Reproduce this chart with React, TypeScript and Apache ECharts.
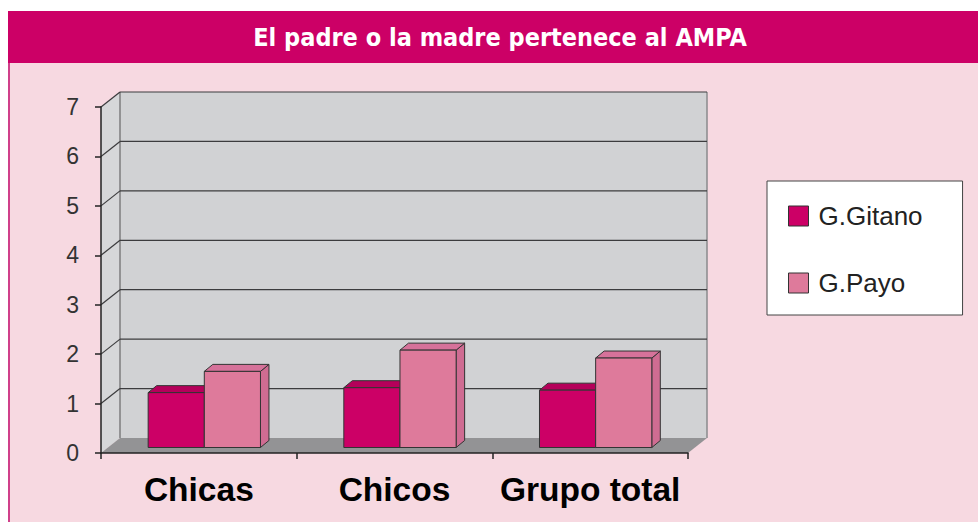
import React, { useEffect, useRef } from "react";
import * as echarts from "echarts";

const title = "El padre o la madre pertenece al AMPA";
const categories = ["Chicas", "Chicos", "Grupo total"];
const seriesNames = ["G.Gitano", "G.Payo"];
const gitano = [1.11, 1.21, 1.16];
const payo = [1.54, 1.97, 1.81];
const yMin = 0;
const yMax = 7;
const yInterval = 1;

const DEPTH_X = 19;
const DEPTH_Y = -15;

const gitanoColors = { front: "#CC0066", top: "#B5005A", side: "#A3004F" };
const payoColors = { front: "#DE7A9B", top: "#D6729A", side: "#CF6C92" };

function makeBarRender(isLeft: boolean, c: { front: string; top: string; side: string }) {
  return (params: any, api: any) => {
    const cat = api.value(0);
    const val = api.value(1);
    const base = api.coord([cat, 0]);
    const tp = api.coord([cat, val]);
    const band = api.size([1, 0])[0];
    const w = band * 0.287;
    const sx = band * 0.028;
    const sy = -5.5;
    const l = isLeft ? base[0] + sx - w : base[0] + sx;
    const by = base[1] + sy;
    const ty = tp[1] + sy;
    const dx = 8.5;
    const dy = -7;
    const stroke = { stroke: "#333", lineWidth: 1 };
    return {
      type: "group",
      children: [
        {
          type: "polygon",
          shape: { points: [[l + w, ty], [l + w + dx, ty + dy], [l + w + dx, by + dy], [l + w, by]] },
          style: { fill: c.side, ...stroke },
        },
        {
          type: "polygon",
          shape: { points: [[l, ty], [l + dx, ty + dy], [l + w + dx, ty + dy], [l + w, ty]] },
          style: { fill: c.top, ...stroke },
        },
        {
          type: "rect",
          shape: { x: l, y: ty, width: w, height: by - ty },
          style: { fill: c.front, ...stroke },
        },
      ],
    };
  };
}

function renderWalls(params: any, api: any) {
  const cs = params.coordSys;
  const x = cs.x, y = cs.y, w = cs.width, h = cs.height;
  const children: any[] = [];
  children.push({
    type: "rect",
    shape: { x: x + DEPTH_X, y: y + DEPTH_Y, width: w, height: h },
    style: { fill: "#D1D2D4", stroke: "none" },
  });
  children.push({
    type: "polygon",
    shape: { points: [[x, y + h], [x + DEPTH_X, y + h + DEPTH_Y], [x + DEPTH_X, y + DEPTH_Y], [x, y]] },
    style: { fill: "#D6D7D9", stroke: "none" },
  });
  children.push({
    type: "polygon",
    shape: { points: [[x, y + h], [x + DEPTH_X, y + h + DEPTH_Y], [x + w + DEPTH_X, y + h + DEPTH_Y], [x + w, y + h]] },
    style: { fill: "#939395", stroke: "none" },
  });
  children.push({
    type: "line",
    shape: { x1: x + DEPTH_X, y1: y + DEPTH_Y, x2: x + DEPTH_X, y2: y + h + DEPTH_Y },
    style: { stroke: "#7C7C7E", lineWidth: 1.5 },
  });
  children.push({
    type: "line",
    shape: { x1: x + w + DEPTH_X, y1: y + DEPTH_Y, x2: x + w + DEPTH_X, y2: y + h + DEPTH_Y },
    style: { stroke: "#8A8A8C", lineWidth: 1.5 },
  });
  for (let v = yMin + yInterval; v <= yMax; v += yInterval) {
    const py = api.coord([0, v])[1];
    children.push({
      type: "line",
      shape: { x1: x + DEPTH_X, y1: py + DEPTH_Y, x2: x + w + DEPTH_X, y2: py + DEPTH_Y },
      style: { stroke: "#3C3C3E", lineWidth: 1.2 },
    });
    children.push({
      type: "line",
      shape: { x1: x, y1: py, x2: x + DEPTH_X, y2: py + DEPTH_Y },
      style: { stroke: "#3C3C3E", lineWidth: 1.2 },
    });
  }
  return { type: "group", children };
}

export default function App() {
  const ref = useRef<HTMLDivElement>(null);
  useEffect(() => {
    if (!ref.current) return;
    const chart = echarts.init(ref.current, undefined, { renderer: "svg" });
    chart.setOption({
      animation: false,
      backgroundColor: "#FFFFFF",
      graphic: [
        { type: "rect", z: -100, shape: { x: 8, y: 63, width: 970, height: 459 }, style: { fill: "#F7D9E1" } },
        { type: "rect", z: -99, shape: { x: 8, y: 63, width: 2, height: 459 }, style: { fill: "#D0408A" } },
        { type: "rect", z: -99, shape: { x: 8, y: 11, width: 970, height: 52 }, style: { fill: "#CC0066" } },
        {
          type: "text",
          z: 10,
          x: 500,
          y: 37,
          style: {
            text: title,
            fill: "#FFFFFF",
            font: "bold 25px 'DejaVu Sans Condensed', 'DejaVu Sans', sans-serif",
            align: "center",
            verticalAlign: "middle",
          },
        },
      ],
      legend: {
        left: 767,
        top: 181,
        orient: "vertical",
        padding: [22, 40, 19, 21],
        itemGap: 41,
        itemWidth: 20,
        itemHeight: 20,
        backgroundColor: "#FFFFFF",
        borderColor: "#444",
        borderWidth: 1,
        borderRadius: 0,
        selectedMode: false,
        textStyle: {
          fontFamily: "'Liberation Sans', Arial, sans-serif",
          fontSize: 26,
          color: "#222",
          padding: [0, 0, 0, 5],
        },
        data: [
          { name: seriesNames[0], icon: "rect", itemStyle: { color: gitanoColors.front, borderColor: "#333", borderWidth: 1 } },
          { name: seriesNames[1], icon: "rect", itemStyle: { color: payoColors.front, borderColor: "#333", borderWidth: 1 } },
        ],
      },
      grid: { left: 101, right: 290, top: 107, bottom: 69, containLabel: false },
      xAxis: {
        type: "category",
        data: categories,
        z: 5,
        boundaryGap: true,
        axisLine: { show: true, lineStyle: { color: "#222", width: 1.5 } },
        axisTick: { show: true, interval: 0, length: 6, lineStyle: { color: "#222", width: 1.5 } },
        axisLabel: {
          interval: 0,
          hideOverlap: false,
          margin: 19,
          color: "#000",
          fontFamily: "'Liberation Sans', Arial, sans-serif",
          fontWeight: "bold",
          fontSize: 33.5,
        },
        splitLine: { show: false },
      },
      yAxis: {
        type: "value",
        min: yMin,
        max: yMax,
        interval: yInterval,
        z: 5,
        axisLine: { show: true, lineStyle: { color: "#222", width: 1.5 } },
        axisTick: { show: true, length: 6, lineStyle: { color: "#222", width: 1.5 } },
        axisLabel: {
          margin: 22,
          color: "#333",
          fontFamily: "'Liberation Sans', Arial, sans-serif",
          fontSize: 23,
          padding: [10, 0, 0, 0],
        },
        splitLine: { show: false },
      },
      series: [
        {
          type: "custom",
          name: "walls",
          z: 1,
          silent: true,
          renderItem: renderWalls,
          encode: { x: 0, y: 1 },
          data: [[0, 0]],
        },
        {
          type: "custom",
          name: seriesNames[0],
          z: 2,
          itemStyle: { color: gitanoColors.front },
          renderItem: makeBarRender(true, gitanoColors),
          encode: { x: 0, y: 1 },
          data: gitano.map((v, i) => [i, v]),
        },
        {
          type: "custom",
          name: seriesNames[1],
          z: 3,
          itemStyle: { color: payoColors.front },
          renderItem: makeBarRender(false, payoColors),
          encode: { x: 0, y: 1 },
          data: payo.map((v, i) => [i, v]),
        },
      ],
    });
    return () => chart.dispose();
  }, []);
  return <div ref={ref} style={{ position: "absolute", left: 0, top: 0, width: 978, height: 522 }} />;
}
